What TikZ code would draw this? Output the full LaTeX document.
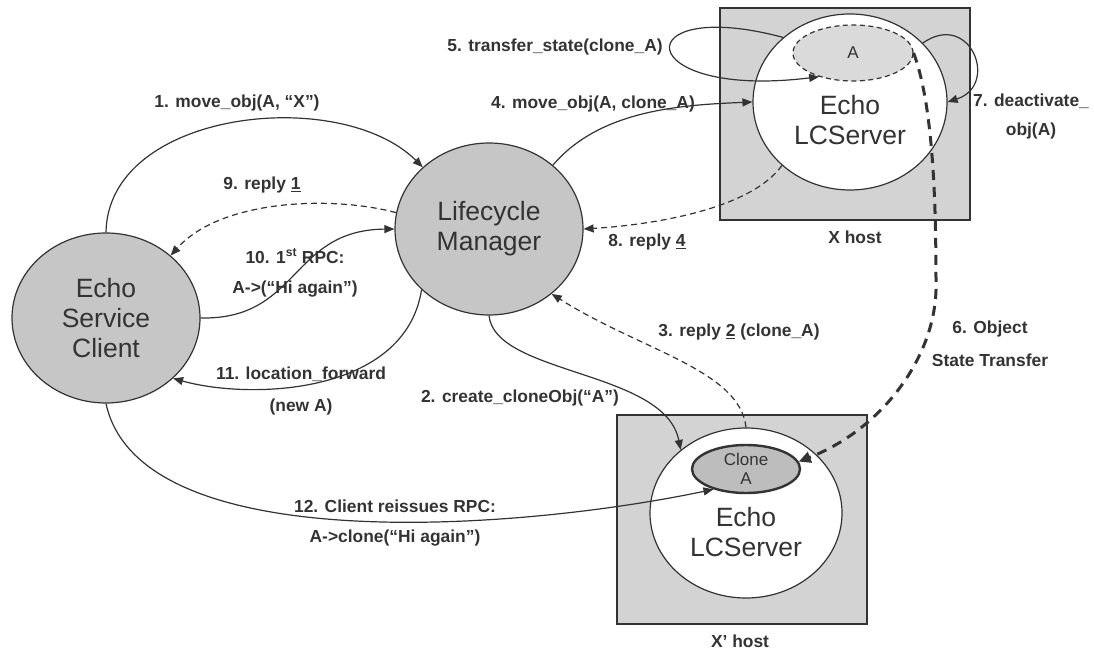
\documentclass[tikz,border=0pt]{standalone}
\usepackage{fontspec}
\setmainfont{Liberation Sans}
\usetikzlibrary{shapes.geometric,arrows.meta}
\definecolor{ink}{HTML}{333333}
\definecolor{orbfill}{HTML}{C6C6C6}
\definecolor{hostfill}{HTML}{D3D3D3}
\definecolor{objfill}{HTML}{BDBDBD}
\definecolor{afill}{HTML}{DADADA}

\begin{document}
\begin{tikzpicture}[x=1pt,y=-1pt,
  orb/.style={ellipse,draw=ink,line width=1.2pt,inner sep=0pt,align=center,
    font=\fontsize{26.5}{30}\selectfont,text=ink},
  srvtext/.style={align=center,font=\fontsize{26.5}{30}\selectfont,text=ink,inner sep=0pt},
  host/.style={draw=ink,line width=1.2pt,fill=hostfill,inner sep=0pt},
  hostname/.style={font=\bfseries\fontsize{17.4}{20}\selectfont,text=ink},
  lbl/.style={font=\bfseries\fontsize{17.4}{20}\selectfont,text=ink,inner sep=1pt,align=center},
  msg/.style={draw=ink,line width=1.2pt,-{Triangle[length=10pt,width=8pt]}},
  reply/.style={msg,dash pattern=on 6pt off 4pt},
  transfer/.style={draw=ink,line width=3pt,dash pattern=on 10pt off 7pt,
    -{Triangle[length=12pt,width=11pt]}}
]
\useasboundingbox (0,0) rectangle (1094,652);

% hosts
\node[host,minimum width=250pt,minimum height=212pt] (hostx) at (845,114) {};
\node[host,minimum width=250pt,minimum height=209pt] (hostxp) at (742,519.5) {};
\node[hostname] (hostxlbl) at (855,237) {X host};
\node[hostname] (hostxplbl) at (740,641) {X’ host};

% client and lifecycle manager
\node[orb,fill=orbfill,minimum width=188pt,minimum height=170pt] (client) at (106,318)
  {Echo\\Service\\Client};
\node[orb,fill=orbfill,minimum width=188pt,minimum height=172pt] (lm) at (489,229)
  {Lifecycle\\Manager};

% servers
\node[orb,fill=white,minimum width=194pt,minimum height=176pt] (xs) at (850,102) {};
\node[srvtext] (xstxt) at (850,120) {Echo\\LCServer};
\node[orb,fill=white,minimum width=192pt,minimum height=170pt] (xps) at (746,513) {};
\node[srvtext] (xpstxt) at (746,532) {Echo\\LCServer};

% objects
\node[ellipse,draw=ink,line width=1.2pt,dash pattern=on 5pt off 3.5pt,fill=afill,
  minimum width=120pt,minimum height=56pt,inner sep=0pt,
  font=\fontsize{17}{18}\selectfont,text=ink] (aobj) at (853,53) {A};
\node[ellipse,draw=ink,line width=2.4pt,fill=objfill,minimum width=108pt,minimum height=48pt,
  inner sep=0pt,align=center,font=\fontsize{17}{19}\selectfont,text=ink] (clonea) at (746,469)
  {Clone\\A};

% messages
\draw[msg] (client.north) .. controls (108,110) and (340,85) .. (lm.137);
\draw[msg] (lm.270) .. controls (495,375) and (665,370) .. (xps.136);
\draw[reply] (xps.north) .. controls (740,370) and (640,350) .. (lm.314);
\draw[msg] (lm.45) .. controls (600,110) and (680,105) .. (xs.180);
\draw[msg] (xs.136) .. controls (625,-5) and (630,100) .. (aobj.215);
\draw[transfer] (aobj.east) .. controls (935,110) and (936,220) .. (936,290)
  .. controls (934,360) and (880,430) .. (clonea.8);
\draw[msg] (xs.39) .. controls (970,10) and (1000,85) .. (xs.0);
\draw[reply] (xs.223) .. controls (750,210) and (650,225) .. (lm.0);
\draw[reply] (lm.170) .. controls (330,195) and (220,200) .. (client.44);
\draw[msg] (client.east) .. controls (300,320) and (290,230) .. (lm.180);
\draw[msg] (lm.222) .. controls (405,395) and (250,400) .. (client.-42);
\draw[msg] (client.south) .. controls (140,560) and (520,530) .. (clonea.212);

% labels
\node[lbl] (l1) at (237,103) {1. move\_obj(A, “X”)};
\node[lbl] (l2) at (520,398) {2. create\_cloneObj(“A”)};
\node[lbl] (l3) at (739,332) {3. reply \underline{2} (clone\_A)};
\node[lbl] (l4) at (593,104) {4. move\_obj(A, clone\_A)};
\node[lbl] (l5) at (555,47) {5. transfer\_state(clone\_A)};
\node[lbl,font=\bfseries\fontsize{17.4}{33}\selectfont] (l6) at (990,344) {6. Object\\State Transfer};
\node[lbl,font=\bfseries\fontsize{17.4}{29}\selectfont] (l7) at (1031,117) {7. deactivate\_\\obj(A)};
\node[lbl] (l8) at (647,242) {8. reply \underline{4}};
\node[lbl] (l9) at (262,185) {9. reply \underline{1}};
\node[lbl,font=\bfseries\fontsize{17.4}{30}\selectfont] (l10) at (295,273)
  {10. 1\textsuperscript{st} RPC:\\A->(“Hi again”)};
\node[lbl,font=\bfseries\fontsize{17.4}{32}\selectfont] (l11) at (301,391)
  {11. location\_forward\\(new A)};
\node[lbl,font=\bfseries\fontsize{17.4}{30}\selectfont] (l12) at (395,523)
  {12. Client reissues RPC:\\A->clone(“Hi again”)};
\end{tikzpicture}
\end{document}
